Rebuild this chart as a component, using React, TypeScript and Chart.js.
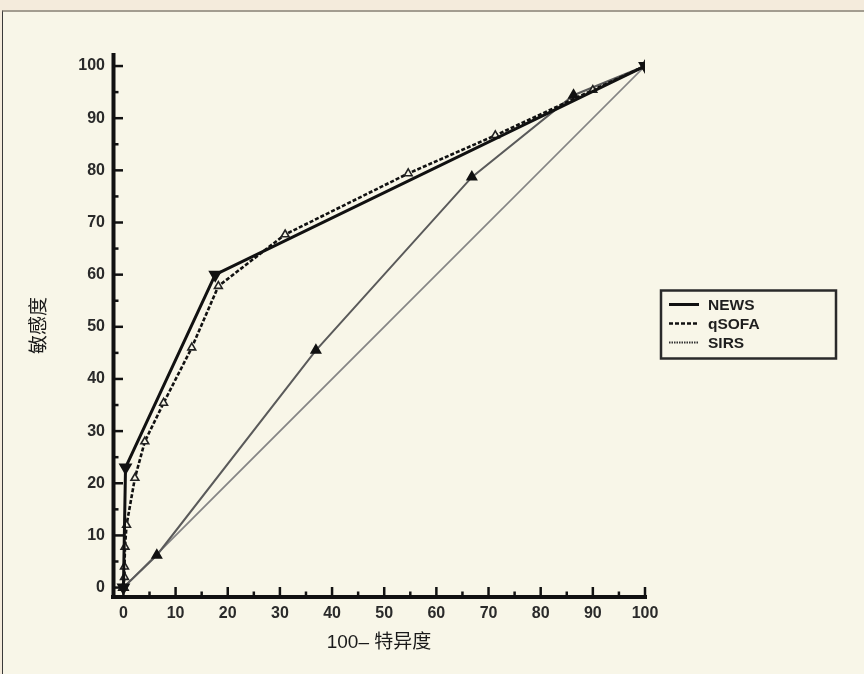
import React, { useEffect, useRef } from 'react';
import { Chart, registerables } from 'chart.js';

Chart.register(...registerables);

// ---- data ----
const newsX = [0, 0.4, 17.6, 100];
const newsY = [0, 23, 60, 100];
const qsofaX = [0, 0.2, 0.2, 0.3, 0.6, 2.2, 4.1, 7.7, 13.1, 18.2, 31, 54.6, 71.3, 90, 100];
const qsofaY = [0, 2, 4, 7.8, 12, 21, 28, 35.4, 46, 57.8, 67.7, 79.4, 86.7, 95.4, 100];
const sirsX = [0, 6.4, 36.9, 66.8, 86.3, 100];
const sirsY = [0, 6.2, 45.5, 78.7, 94.4, 100];
const refX = [0, 100];
const refY = [0, 100];
const xTickValues = [0, 10, 20, 30, 40, 50, 60, 70, 80, 90, 100];
const yTickValues = [0, 10, 20, 30, 40, 50, 60, 70, 80, 90, 100];
const seriesLabels = ['NEWS', 'qSOFA', 'SIRS'];
const legendDashes = [[], [4, 2], [1.5, 1]];
const xTitle = '100– 特异度';
const yTitle = '敏感度';

const PANEL_BG = '#f8f6e8';

const toPoints = (xs: number[], ys: number[]) => xs.map((x, i) => ({ x, y: ys[i] }));

const axesPlugin = {
  id: 'prismAxes',
  beforeDatasetsDraw(chart: any) {
    const { ctx, chartArea, scales } = chart;
    const xs = scales.x;
    const ys = scales.y;
    const axY = chartArea.bottom - 1;
    const axX = chartArea.left + 0.5;
    ctx.save();
    ctx.strokeStyle = '#111';
    ctx.lineCap = 'butt';
    ctx.lineWidth = 4;
    ctx.beginPath();
    ctx.moveTo(chartArea.left - 2, axY);
    ctx.lineTo(xs.getPixelForValue(xTickValues[xTickValues.length - 1]) + 2, axY);
    ctx.stroke();
    ctx.beginPath();
    ctx.moveTo(axX, chartArea.top);
    ctx.lineTo(axX, chartArea.bottom + 1);
    ctx.stroke();
    ctx.lineWidth = 2.5;
    const drawX = (v: number, len: number) => {
      const px = xs.getPixelForValue(v);
      ctx.beginPath();
      ctx.moveTo(px, axY);
      ctx.lineTo(px, axY - len);
      ctx.stroke();
    };
    const drawY = (v: number, len: number) => {
      const py = ys.getPixelForValue(v);
      ctx.beginPath();
      ctx.moveTo(axX, py);
      ctx.lineTo(axX + len, py);
      ctx.stroke();
    };
    xTickValues.forEach((v, i) => {
      drawX(v, 10);
      if (i < xTickValues.length - 1) drawX((v + xTickValues[i + 1]) / 2, 5.5);
    });
    yTickValues.forEach((v, i) => {
      drawY(v, 9.5);
      if (i < yTickValues.length - 1) drawY((v + yTickValues[i + 1]) / 2, 5);
    });
    ctx.restore();
  },
};

const legendPlugin = {
  id: 'boxLegend',
  afterDraw(chart: any) {
    const { ctx, chartArea } = chart;
    const left = chartArea.right + 16;
    const width = 175;
    const height = 68;
    const top = (chartArea.top + chartArea.bottom) / 2 - height / 2 - 1;
    ctx.save();
    ctx.strokeStyle = '#2a2a2a';
    ctx.lineWidth = 2.5;
    ctx.strokeRect(left, top, width, height);
    ctx.font = 'bold 15.5px "Liberation Sans", Arial, sans-serif';
    ctx.fillStyle = '#1e1e1e';
    ctx.textBaseline = 'middle';
    ctx.textAlign = 'left';
    seriesLabels.forEach((label, i) => {
      const ds = chart.data.datasets[i];
      const y = top + 14 + i * 19;
      ctx.save();
      ctx.strokeStyle = i === 2 ? '#333' : ds.borderColor;
      ctx.lineWidth = ds.borderWidth;
      ctx.setLineDash(legendDashes[i]);
      ctx.beginPath();
      ctx.moveTo(left + 8, y);
      ctx.lineTo(left + 38, y);
      ctx.stroke();
      ctx.restore();
      ctx.fillText(label, left + 47, y + 1);
    });
    ctx.restore();
  },
};

export default function App() {
  const canvasRef = useRef<HTMLCanvasElement | null>(null);

  useEffect(() => {
    if (!canvasRef.current) return;
    const tickFont = { family: '"Liberation Sans", Arial, sans-serif', size: 16, weight: 'bold' as const };
    const titleFont = { family: '"Liberation Sans", "Noto Sans CJK SC", sans-serif', size: 19 };
    const chart = new Chart(canvasRef.current, {
      type: 'line',
      data: {
        datasets: [
          {
            label: seriesLabels[0],
            data: toPoints(newsX, newsY),
            borderColor: '#111',
            borderWidth: 3,
            pointStyle: 'triangle',
            rotation: 180,
            pointRadius: 5,
            pointBackgroundColor: '#111',
            pointBorderColor: '#111',
            tension: 0,
          },
          {
            label: seriesLabels[1],
            data: toPoints(qsofaX, qsofaY),
            borderColor: '#111',
            borderWidth: 2.6,
            borderDash: [4, 2],
            pointStyle: 'triangle',
            pointRadius: 4.5,
            pointBackgroundColor: PANEL_BG,
            pointBorderColor: '#222',
            pointBorderWidth: 1.6,
            tension: 0,
          },
          {
            label: seriesLabels[2],
            data: toPoints(sirsX, sirsY),
            borderColor: '#5a5a5a',
            borderWidth: 2,
            pointStyle: 'triangle',
            pointRadius: 5,
            pointBackgroundColor: '#111',
            pointBorderColor: '#111',
            tension: 0,
          },
          {
            label: 'reference',
            data: toPoints(refX, refY),
            borderColor: '#858585',
            borderWidth: 1.8,
            pointRadius: 0,
            tension: 0,
          },
        ],
      },
      options: {
        responsive: false,
        animation: false,
        devicePixelRatio: 1,
        layout: { padding: { left: 0, top: 53, right: 219, bottom: 0 } },
        plugins: {
          legend: { display: false },
          tooltip: { enabled: false },
        },
        scales: {
          x: {
            type: 'linear',
            min: -2,
            max: 100,
            grid: { display: false, drawTicks: false },
            border: { display: false },
            afterBuildTicks: (scale: any) => {
              scale.ticks = xTickValues.map((v) => ({ value: v }));
            },
            afterFit: (scale: any) => {
              scale.height = 76;
            },
            ticks: {
              font: tickFont,
              color: '#2a2a2a',
              padding: 6,
              maxRotation: 0,
              autoSkip: false,
            },
            title: {
              display: true,
              text: xTitle,
              font: titleFont,
              color: '#1a1a1a',
              padding: { top: 20, bottom: 20 },
            },
          },
          y: {
            type: 'linear',
            min: -2,
            max: 102.5,
            grid: { display: false, drawTicks: false },
            border: { display: false },
            afterBuildTicks: (scale: any) => {
              scale.ticks = yTickValues.map((v) => ({ value: v }));
            },
            afterFit: (scale: any) => {
              scale.width = 113;
            },
            ticks: {
              font: tickFont,
              color: '#2a2a2a',
              padding: 8,
              autoSkip: false,
            },
            title: {
              display: true,
              text: yTitle,
              font: titleFont,
              color: '#1a1a1a',
              padding: { top: 28, bottom: 28 },
            },
          },
        },
      },
      plugins: [axesPlugin, legendPlugin],
    } as any);
    return () => chart.destroy();
  }, []);

  return (
    <div
      style={{
        position: 'fixed',
        left: 0,
        top: 0,
        width: 864,
        height: 674,
        background: '#f4ebdc',
        overflow: 'hidden',
      }}
    >
      <div
        style={{
          position: 'absolute',
          left: 2,
          top: 10,
          right: 0,
          bottom: 0,
          background: PANEL_BG,
          borderTop: '2px solid #a39d90',
          borderLeft: '1px solid #3a3a3a',
        }}
      />
      <canvas
        ref={canvasRef}
        width={864}
        height={674}
        style={{ position: 'absolute', left: 0, top: 0, width: 864, height: 674 }}
      />
    </div>
  );
}
